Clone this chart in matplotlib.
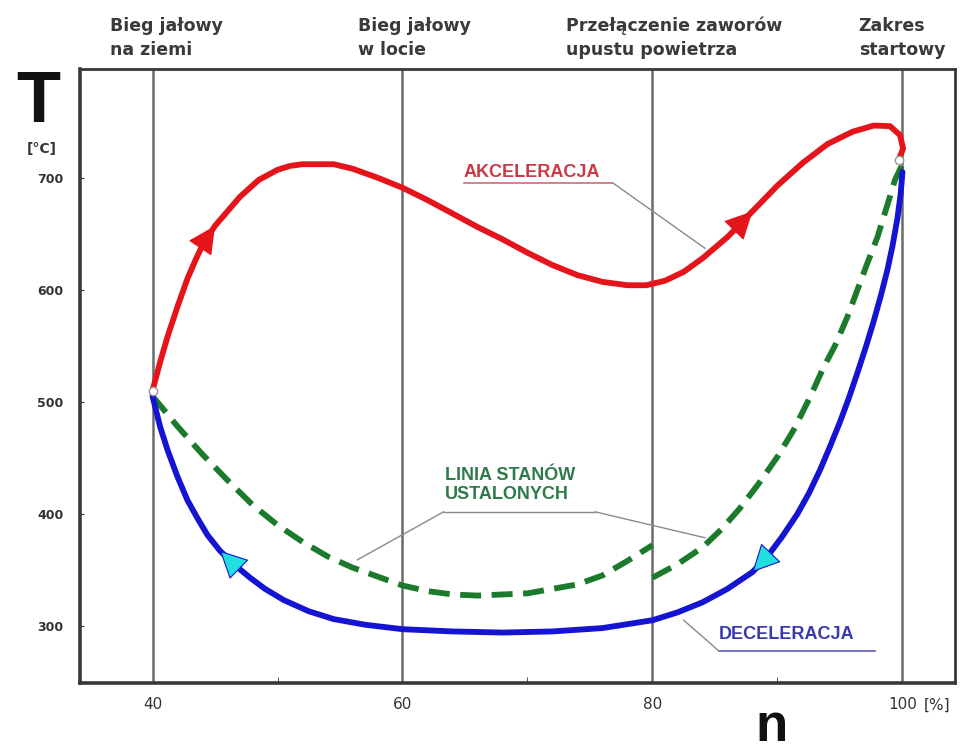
import matplotlib
matplotlib.use("Agg")
import matplotlib.pyplot as plt

# Engine speed n [%] vs exhaust gas temperature T [°C]
accel_n = [40, 40.6, 41.2, 42, 42.8, 43.5, 44.1, 45, 46, 47, 48.5, 50, 51, 52, 54.5, 56, 58, 60, 62,
           64, 66, 68, 70, 72, 74, 76, 78, 79.5, 81, 82.5, 84, 86, 88, 90, 92, 94, 96, 97.7,
           99, 99.8, 100.05, 99.7]
accel_T = [510, 535, 558, 585, 610, 628, 642, 657, 670, 683, 698, 707, 710.5, 712, 712, 708, 700, 691, 680,
           668, 656, 645, 633, 622, 613, 607, 604, 604, 608, 616, 628, 647, 670, 693, 713, 730, 741, 746.5,
           746, 738, 726, 716]

decel_n = [40, 40.6, 41.2, 42, 42.8, 43.6, 44.4, 45.4, 46.5, 47.8, 49, 50.5, 52.5, 54.5, 57, 60,
           64, 68, 72, 76, 80, 82, 84, 86, 88, 89.2, 90.4, 91.6, 92.5, 93.4, 94.2, 95, 95.7, 96.4,
           97.1, 97.7, 98.3, 98.8, 99.2, 99.6, 99.85, 100]
decel_T = [505, 478, 457, 433, 412, 396, 381, 367, 355, 343, 333, 323, 313, 306, 301, 297,
           295, 294, 295, 298, 305, 312, 321, 333, 348, 362, 380, 400, 418, 439, 460, 482, 503, 526,
           550, 572, 596, 618, 639, 664, 685, 705]

steady_low_n = [40, 42, 44, 46, 48, 50, 52, 54, 56, 58, 60, 62, 64, 66, 68, 70, 72, 74, 76, 78, 80]
steady_low_T = [505, 478, 453, 430, 408, 390, 375, 362, 352, 344, 336, 331, 328, 327, 328, 329, 333, 337, 345, 358, 372]
steady_high_n = [80, 82, 84, 85.5, 87, 88.5, 90, 91.3, 92.6, 93.7, 94.6, 95.6, 96.4, 97.2, 98, 98.8, 99.4, 100]
steady_high_T = [343, 355, 370, 386, 405, 427, 451, 475, 504, 531, 550, 576, 600, 624, 647, 676, 698, 712]

mode_n = [40, 60, 80, 100]
mode_labels = ["Bieg jałowy\nna ziemi", "Bieg jałowy\nw locie",
               "Przełączenie zaworów\nupustu powietrza", "Zakres\nstartowy"]
mode_label_n = [36.6, 56.4, 73.1, 96.5]

x_ticks = [40, 60, 80, 100]
y_ticks = [300, 400, 500, 600, 700]

RED = "#e5141b"
BLUE = "#1414d2"
GREEN = "#1b7a2b"
CYAN = "#22dede"
SPINE = "#383838"

fig = plt.figure(figsize=(9.71, 7.54), dpi=100)
ax = fig.add_axes([0.0824, 0.0942, 0.9011, 0.8143])
ax.set_xlim(34.2, 104.2)
ax.set_ylim(249, 797)

for s in ax.spines.values():
    s.set_color(SPINE)
    s.set_linewidth(2.0)
ax.spines["left"].set_linewidth(2.6)
ax.spines["bottom"].set_linewidth(2.6)

# operating mode boundaries
for xv in mode_n:
    ax.axvline(xv, color="#6a6a6a", lw=1.8, zorder=1)

# steady-state line (two branches, bleed valve switching at 80 %)
dash = (3.6, 1.8)
ax.plot(steady_low_n, steady_low_T, color=GREEN, lw=4.2, dashes=dash, zorder=3)
ax.plot(steady_high_n, steady_high_T, color=GREEN, lw=4.2, dashes=dash, zorder=3)

ax.plot(decel_n, decel_T, color=BLUE, lw=4.2, zorder=4, solid_capstyle="round",
        solid_joinstyle="round")
ax.plot(accel_n, accel_T, color=RED, lw=4.2, zorder=5, solid_capstyle="round",
        solid_joinstyle="round")


def head(ns, ts, i, j, color, edge):
    ax.annotate("", xy=(ns[j], ts[j]), xytext=(ns[i], ts[i]),
                arrowprops=dict(arrowstyle="-|>,head_length=0.9,head_width=0.45",
                                mutation_scale=20, facecolor=color, edgecolor=edge,
                                lw=0.8, shrinkA=0, shrinkB=0),
                zorder=6)


# direction arrows
head(accel_n, accel_T, 6, 7, RED, RED)
head(accel_n, accel_T, 31, 32, RED, RED)
head(decel_n, decel_T, 8, 7, CYAN, BLUE)
head(decel_n, decel_T, 25, 24, CYAN, BLUE)

# start / end markers
ax.plot([accel_n[0], accel_n[-1]], [accel_T[0], accel_T[-1]], "o", ms=6,
        mfc="white", mec="#999999", mew=1, zorder=7)

# annotations with underline and leader lines
lead = dict(color="#8a8a8a", lw=1.0, zorder=2)
ANN = dict(fontsize=13, fontweight="bold", va="center", ha="left", family="Liberation Sans")
ax.text(64.9, 705, "AKCELERACJA", color="#c83a46", **ANN)
ax.plot([64.9, 76.8], [695.5, 695.5], color="#c8707a", lw=1.2, zorder=2)
ax.plot([76.8, 84.2], [695.5, 637], **lead)

ax.text(63.4, 425.5, "LINIA STANÓW\nUSTALONYCH", color="#2f7a4a", linespacing=1.15, **ANN)
ax.plot([63.3, 75.4], [401.8, 401.8], **lead)
ax.plot([63.3, 56.4], [401.8, 359], **lead)
ax.plot([75.4, 84.2], [401.8, 378.6], **lead)

ax.text(85.3, 292, "DECELERACJA", color="#3a3ab0", **ANN)
ax.plot([85.3, 97.8], [277.7, 277.7], color="#5a5ab8", lw=1.2, zorder=2)
ax.plot([85.3, 82.5], [277.7, 305], **lead)

# mode labels above the plot
for xl, lab in zip(mode_label_n, mode_labels):
    ax.text(xl, 1.016, lab, transform=ax.get_xaxis_transform(), fontsize=12.5,
            fontweight="bold", color="#3a3a3a", ha="left", va="bottom",
            linespacing=1.42, family="DejaVu Sans")

# ticks
ax.set_xticks(x_ticks)
ax.set_xticklabels([str(v) for v in x_ticks], fontsize=11, color="#333333")
ax.set_xticks([50, 70, 90], minor=True)
ax.set_yticks(y_ticks)
ax.set_yticklabels([str(v) for v in y_ticks], fontsize=9, fontweight="bold", color="#333333")
ax.tick_params(axis="x", which="major", length=0, pad=10)
ax.tick_params(axis="x", which="minor", direction="in", length=4, color=SPINE)
ax.tick_params(axis="y", direction="in", length=3, pad=12, color=SPINE)

# axis titles
fig.text(0.017, 0.838, "T", fontsize=52, fontweight="bold", family="Liberation Sans",
         color="#111111", ha="left", va="baseline")
fig.text(0.028, 0.802, "[°C]", fontsize=10, fontweight="bold", color="#333333",
         ha="left", va="center")
fig.text(0.795, 0.002, "n", fontsize=38, fontweight="bold", family="Liberation Sans",
         color="#111111", ha="center", va="bottom")
fig.text(0.951, 0.065, "[%]", fontsize=11, color="#333333", ha="left", va="center")

fig.savefig("out.png", dpi=100, facecolor="white")
